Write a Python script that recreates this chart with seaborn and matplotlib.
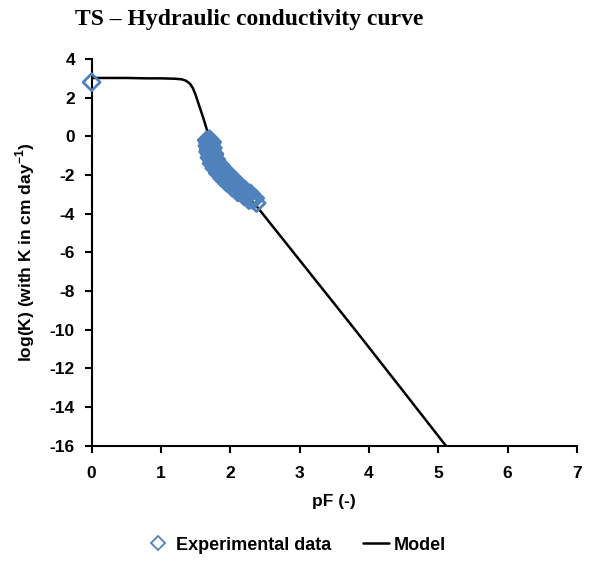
import matplotlib
matplotlib.use("Agg")
import matplotlib.pyplot as plt
import seaborn as sns
import pandas as pd
from matplotlib.lines import Line2D

# measured points (pF, log K)
exp_pf = [0.0,
          1.66, 1.70, 1.74, 1.67, 1.71, 1.75, 1.68, 1.72, 1.77,
          1.70, 1.75, 1.80, 1.73, 1.78, 1.84, 1.77, 1.83, 1.89,
          1.82, 1.88, 1.95, 1.88, 1.95, 2.02, 1.95, 2.02, 2.09,
          2.03, 2.10, 2.16, 2.11, 2.18, 2.24, 2.20, 2.26, 2.31,
          2.27, 2.33, 2.38,
          1.68, 1.72, 1.69, 1.74, 1.71, 1.77, 1.74, 1.80, 1.79, 1.86,
          1.85, 1.92, 1.91, 1.99, 1.99, 2.06, 2.07, 2.13, 2.15, 2.21,
          2.23, 2.29, 2.31, 2.36]
exp_logk = [2.8,
            -0.2, -0.15, -0.3, -0.5, -0.45, -0.6, -0.8, -0.75, -0.9,
            -1.1, -1.05, -1.2, -1.4, -1.35, -1.5, -1.65, -1.6, -1.75,
            -1.9, -1.85, -2.0, -2.15, -2.1, -2.25, -2.4, -2.35, -2.5,
            -2.65, -2.6, -2.75, -2.9, -2.85, -3.0, -3.1, -3.05, -3.25,
            -3.3, -3.3, -3.45,
            -0.35, -0.4, -0.65, -0.65, -0.95, -0.95, -1.25, -1.25, -1.55, -1.5,
            -1.8, -1.75, -2.05, -2.0, -2.3, -2.25, -2.55, -2.5, -2.8, -2.75,
            -3.0, -2.95, -3.2, -3.2]

# fitted model curve
model_pf = [0.0, 0.5, 0.8, 1.0, 1.2, 1.3, 1.36, 1.42, 1.46, 1.5, 1.56,
            1.62, 1.68, 1.8, 1.9, 2.0, 2.2, 2.4, 3.0, 3.8, 4.5, 5.11]
model_logk = [3.02, 3.02, 3.0, 3.0, 2.98, 2.95, 2.88, 2.72, 2.5, 2.15, 1.5,
              0.85, 0.14, -1.3, -1.85, -2.25, -2.95, -3.7, -6.4, -10.0,
              -13.2, -16.0]

exp_df = pd.DataFrame({"pF": exp_pf, "logK": exp_logk})
model_df = pd.DataFrame({"pF": model_pf, "logK": model_logk})

sns.set_style("ticks")
plt.rcParams["font.family"] = ["Liberation Sans", "DejaVu Sans"]
plt.rcParams["axes.unicode_minus"] = False
for key in ["text.color", "axes.labelcolor", "xtick.color", "ytick.color"]:
    plt.rcParams[key] = "black"

blue = "#4F81BD"

fig = plt.figure(figsize=(5.91, 5.62), dpi=100)
ax = fig.add_axes([0.155, 0.207, 0.821, 0.688])

sns.lineplot(data=model_df, x="pF", y="logK", color="black", lw=1.8,
             sort=False, ax=ax, zorder=2)
sns.scatterplot(data=exp_df, x="pF", y="logK", marker="D", s=75,
                facecolor="none", edgecolor=blue, linewidth=2.0,
                ax=ax, zorder=3, clip_on=False)

ax.set_xlim(0, 7)
ax.set_ylim(-16, 4)
ax.set_xticks(range(0, 8))
ax.set_yticks(range(-16, 5, 2))
for lab in ax.get_xticklabels() + ax.get_yticklabels():
    lab.set_fontweight("bold")
    lab.set_fontsize(12.5)
ax.tick_params(direction="out", length=5, width=1.5, color="black")
ax.tick_params(axis="x", pad=10)
ax.tick_params(axis="y", pad=7)
for s in ["left", "bottom"]:
    ax.spines[s].set_linewidth(1.5)
    ax.spines[s].set_color("black")
sns.despine(ax=ax)

ax.set_xlabel("pF (-)", fontsize=12.5, fontweight="bold", labelpad=9)
ax.set_ylabel("log(K) (with K in cm day$^{\\mathregular{-1}}$)", fontsize=12.5,
              fontweight="bold", labelpad=9)

fig.text(75 / 591, 1 - 20 / 562, "TS \u2013 Hydraulic conductivity curve",
         fontsize=17, fontweight="bold", va="center", ha="left",
         color="black", family=["Liberation Serif", "DejaVu Serif"])

handles = [Line2D([], [], marker="D", ls="none", mfc="none", mec=blue,
                  mew=1.3, ms=7, label="Experimental data"),
           Line2D([], [], color="black", lw=1.8, label="Model")]
fig.legend(handles=handles, loc="center", bbox_to_anchor=(0.5, 1 - 545 / 562),
           ncol=2, frameon=False, prop={"weight": "bold", "size": 13},
           handlelength=1.4, handletextpad=0.3, columnspacing=1.8)

fig.savefig("out.png", dpi=100)
